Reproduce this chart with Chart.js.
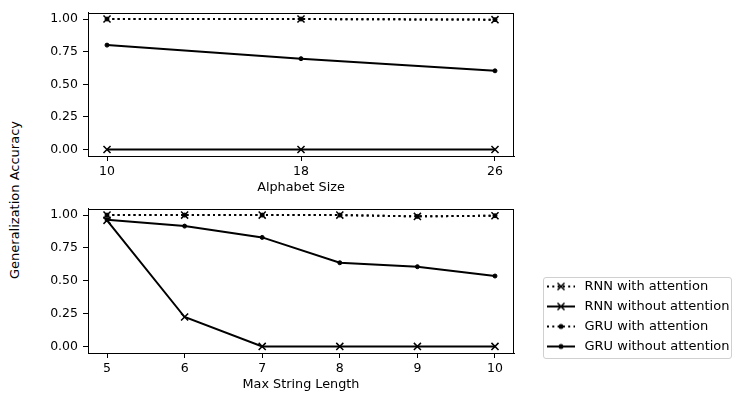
<!DOCTYPE html>
<html>
<head>
<meta charset="utf-8">
<script src="https://cdn.jsdelivr.net/npm/chart.js@4.4.0/dist/chart.umd.min.js"></script>
<style>
  body { margin: 0; background: #fff; }
  #wrap { position: relative; width: 734px; height: 393px; overflow: hidden; font-family: 'DejaVu Sans', sans-serif; }
  #topChart { position: absolute; left: 0; top: 0; }
  #botChart { position: absolute; left: 0; top: 196px; }
  #legFrame { position: absolute; left: 543px; top: 277px; width: 189px; height: 82px; box-sizing: border-box; border: 1px solid #d0d0d0; border-radius: 3px; }
  #legChart { position: absolute; left: 537px; top: 273px; }
  #yTitle { position: absolute; left: 14px; top: 200px; transform: translate(-50%, -50%) rotate(-90deg); font-size: 13px; white-space: nowrap; color: #000; }
</style>
</head>
<body>
<div id="wrap">
  <div id="yTitle">Generalization Accuracy</div>
  <canvas id="topChart" width="530" height="196"></canvas>
  <canvas id="botChart" width="530" height="197"></canvas>
  <div id="legFrame"></div>
  <canvas id="legChart" width="197" height="92"></canvas>
</div>
<script>
'use strict';
//****************************
//DATA
//****************************
var alphabetSizes = [10, 18, 26];
var stringLengths = [5, 6, 7, 8, 9, 10];
var yTickValues = [0, 0.25, 0.5, 0.75, 1];
var seriesNames = ['RNN with attention', 'RNN without attention', 'GRU with attention', 'GRU without attention'];

// top panel: accuracy vs alphabet size
var rnnAttnAlpha = [1.0, 1.0, 0.995];
var rnnNoAttnAlpha = [0, 0, 0];
var gruAttnAlpha = [1.0, 1.0, 0.995];
var gruNoAttnAlpha = [0.80, 0.696, 0.603];

// bottom panel: accuracy vs max string length
var rnnAttnLen = [1.0, 1.0, 1.0, 1.0, 0.99, 0.995];
var rnnNoAttnLen = [0.96, 0.224, 0, 0, 0, 0];
var gruAttnLen = [1.0, 1.0, 1.0, 1.0, 0.99, 0.995];
var gruNoAttnLen = [0.965, 0.916, 0.83, 0.637, 0.607, 0.536];

Chart.defaults.font.family = "'DejaVu Sans', sans-serif";
Chart.defaults.font.size = 12.5;
Chart.defaults.color = '#000';

var styles = [
  { dash: [2, 3.3], marker: 'crossRot', radius: 5, bw: 1.5 },
  { dash: [], marker: 'crossRot', radius: 5, bw: 1.5 },
  { dash: [2, 3.3], marker: 'circle', radius: 2, bw: 1 },
  { dash: [], marker: 'circle', radius: 2, bw: 1 }
];

function makeSets(xs, lists) {
  return lists.map(function(vals, i) {
    return {
      label: seriesNames[i],
      data: vals.map(function(v, j) { return { x: xs[j], y: v }; }),
      borderColor: '#000',
      backgroundColor: '#000',
      borderWidth: 2,
      borderDash: styles[i].dash,
      pointStyle: styles[i].marker,
      pointRadius: styles[i].radius,
      pointBorderWidth: styles[i].bw,
      pointBorderColor: '#000',
      pointBackgroundColor: '#000',
      tension: 0
    };
  });
}

function makeScales(xMin, xMax, xTicks, xTitle) {
  return {
    x: {
      type: 'linear',
      min: xMin,
      max: xMax,
      afterBuildTicks: function(a) { a.ticks = xTicks.map(function(v) { return { value: v }; }); },
      afterFit: function(a) { a.height = 40; },
      grid: { drawOnChartArea: false, tickLength: 5, color: '#000' },
      border: { color: '#000', width: 1 },
      ticks: { padding: 3, maxRotation: 0, callback: function(v) { return String(v); } },
      title: { display: true, text: xTitle, font: { size: 12.8 }, padding: { top: 2, bottom: 1 } }
    },
    y: {
      min: -0.05,
      max: 1.05,
      afterBuildTicks: function(a) { a.ticks = yTickValues.map(function(v) { return { value: v }; }); },
      afterFit: function(a) { a.width = 88; },
      grid: { drawOnChartArea: false, tickLength: 5, color: '#000' },
      border: { color: '#000', width: 1 },
      ticks: { padding: 5, callback: function(v) { return v.toFixed(2); } }
    }
  };
}

var frame = {
  id: 'frame',
  afterDraw: function(chart) {
    var a = chart.chartArea;
    var ctx = chart.ctx;
    ctx.save();
    ctx.strokeStyle = '#000';
    ctx.lineWidth = 1;
    ctx.strokeRect(Math.round(a.left) + 0.5, Math.round(a.top) + 0.5, Math.round(a.right - a.left) - 1, Math.round(a.bottom - a.top) - 1);
    ctx.restore();
  }
};

function makeChart(id, xs, lists, xMin, xMax, xTitle, padTop) {
  return new Chart(document.getElementById(id), {
    type: 'line',
    data: { datasets: makeSets(xs, lists) },
    options: {
      responsive: false,
      animation: false,
      layout: { padding: { top: padTop, right: 16, left: 0, bottom: 0 } },
      scales: makeScales(xMin, xMax, xs, xTitle),
      plugins: { legend: { display: false }, tooltip: { enabled: false } }
    },
    plugins: [frame]
  });
}

makeChart('topChart', alphabetSizes, [rnnAttnAlpha, rnnNoAttnAlpha, gruAttnAlpha, gruNoAttnAlpha], 9.216, 26.784, 'Alphabet Size', 7);
makeChart('botChart', stringLengths, [rnnAttnLen, rnnNoAttnLen, gruAttnLen, gruNoAttnLen], 4.755, 10.245, 'Max String Length', 8);

// legend icons: line segment with marker, like the plotted series
function legendIcon(i) {
  var c = document.createElement('canvas');
  c.width = 28;
  c.height = 12;
  var g = c.getContext('2d');
  g.strokeStyle = '#000';
  g.fillStyle = '#000';
  g.lineWidth = 2;
  g.setLineDash(styles[i].dash);
  g.beginPath();
  g.moveTo(0, 6);
  g.lineTo(28, 6);
  g.stroke();
  g.setLineDash([]);
  if (styles[i].marker === 'crossRot') {
    g.lineWidth = 1.5;
    g.beginPath();
    g.moveTo(10.5, 2.5); g.lineTo(17.5, 9.5);
    g.moveTo(17.5, 2.5); g.lineTo(10.5, 9.5);
    g.stroke();
  } else {
    g.beginPath();
    g.arc(14, 6, 2.5, 0, Math.PI * 2);
    g.fill();
  }
  return c;
}

new Chart(document.getElementById('legChart'), {
  type: 'line',
  data: {
    datasets: seriesNames.map(function(n, i) {
      return { label: n, data: [], pointStyle: legendIcon(i), borderColor: '#000' };
    })
  },
  options: {
    responsive: false,
    animation: false,
    scales: { x: { display: false }, y: { display: false } },
    plugins: {
      legend: {
        position: 'top',
        align: 'start',
        maxHeight: 92,
        labels: { usePointStyle: true, pointStyleWidth: 34, padding: 7, color: '#000', font: { size: 13 } }
      },
      tooltip: { enabled: false }
    }
  }
});
</script>
</body>
</html>
